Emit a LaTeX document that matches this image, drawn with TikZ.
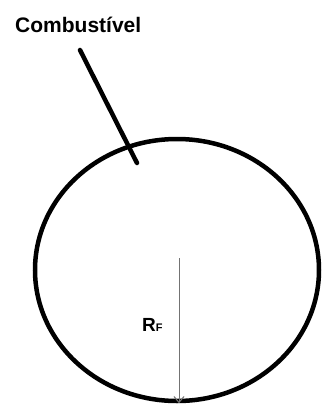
\documentclass[tikz,border=0pt]{standalone}
\usepackage{fontspec}
\setmainfont{Liberation Sans}
\usetikzlibrary{arrows.meta, calc, shapes.geometric}

\begin{document}
\begin{tikzpicture}[x=1pt, y=-1pt,
    wall/.style={draw, line width=4.5pt, ellipse, inner sep=0pt},
    feed/.style={line width=4.5pt, line cap=round},
    radius/.style={black!55, line width=1pt, -{Straight Barb[length=6pt,width=10pt]}}]
    \useasboundingbox (0,0) rectangle (323,405);

    % chamber
    \node[wall, minimum width=284pt, minimum height=262pt] (chamber) at (177,270) {};

    % fuel feed
    \coordinate (feedA) at (80,50);
    \coordinate (feedB) at (137,163);
    \draw[feed] (feedA) -- (feedB);
    \node[anchor=base west, font=\bfseries\fontsize{21}{22}\selectfont, inner sep=0pt] (fuel) at (15,32) {Combustível};

    % radius
    \coordinate (rtop) at (179,258);
    \draw[radius] (rtop) -- (rtop |- chamber.south);
    \node[anchor=base west, font=\bfseries, inner sep=0pt] (rf) at (142,331)
        {{\fontsize{19}{19}\selectfont R}{\fontsize{11}{11}\selectfont F}};
\end{tikzpicture}
\end{document}
